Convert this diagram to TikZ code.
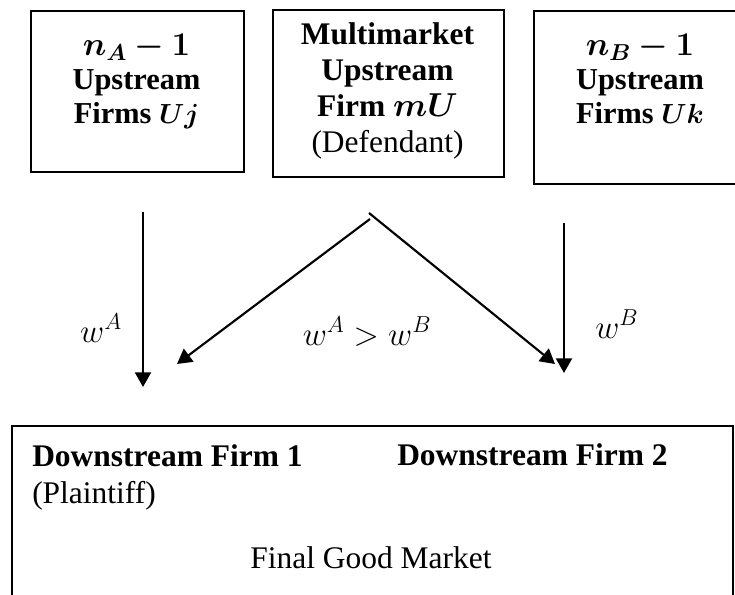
\documentclass[tikz,border=0pt]{standalone}
\usepackage{amsmath,bm}
\usepackage{fontspec}
\setmainfont{Liberation Serif}
\usetikzlibrary{arrows.meta}

\begin{document}
\begin{tikzpicture}[x=0.75pt,y=-0.75pt,font=\fontsize{23.6}{24.5}\selectfont,
  firmbox/.style={draw,line width=1.2pt,anchor=north west,inner sep=0pt},
  firmtext/.style={align=center,anchor=north,inner sep=0pt,font=\fontsize{22.8}{25.5}\selectfont},
  price/.style={line width=1.6pt,-{Triangle[length=11pt,width=12pt]}},
  wlabel/.style={anchor=base,inner sep=0pt,font=\fontsize{25}{26}\selectfont}]
  \useasboundingbox (0,0) rectangle (735,595);
  \clip (0,0) rectangle (735,595);
  % upstream firms
  \node[firmbox,minimum width=159.75pt,minimum height=120.75pt] (upA) at (30,10) {};
  \node[firmbox,minimum width=173.25pt,minimum height=125.25pt] (mU) at (272,9) {};
  \node[firmbox,minimum width=160.5pt,minimum height=129.75pt] (upB) at (533,10) {};
  \node[firmtext] (upAtext) at (136.5,33.5) {{\fontsize{25}{25.5}\selectfont$\boldsymbol{n_A-1}$}\\ \textbf{Upstream}\\ \textbf{Firms $\boldsymbol{Uj}$}};
  \node[firmtext,font=\fontsize{23.6}{27}\selectfont] (mUtext) at (387.5,22) {\textbf{Multimarket}\\ \textbf{Upstream}\\ \textbf{Firm $\boldsymbol{mU}$}\\ (Defendant)};
  \node[firmtext] (upBtext) at (640,33.5) {{\fontsize{25}{25.5}\selectfont$\boldsymbol{n_B-1}$}\\ \textbf{Upstream}\\ \textbf{Firms $\boldsymbol{Uk}$}};
  % downstream market
  \node[firmbox,minimum width=540.75pt,minimum height=165pt] (down) at (11,425) {};
  \node[anchor=north west,align=left,inner sep=0pt,font=\fontsize{23.6}{27.75}\selectfont] (d1) at (32,444) {\textbf{Downstream Firm 1}\\ (Plaintiff)};
  \node[anchor=base west,inner sep=0pt] (d2) at (397,465) {\textbf{Downstream Firm 2}};
  \node[anchor=base,inner sep=0pt] (market) at (371,568) {Final Good Market};
  % wholesale prices
  \coordinate (aTop) at (143,212);
  \coordinate (aEnd) at (143,387);
  \coordinate (mTopL) at (370,219);
  \coordinate (mTopR) at (369,213);
  \coordinate (mEndL) at (177,364);
  \coordinate (mEndR) at (555,364);
  \coordinate (bTop) at (564,223);
  \coordinate (bEnd) at (564,373);
  \draw[price] (aTop) -- (aEnd);
  \draw[price] (mTopL) -- (mEndL);
  \draw[price] (mTopR) -- (mEndR);
  \draw[price] (bTop) -- (bEnd);
  \node[wlabel] (wA) at (101,342) {$w^A$};
  \node[wlabel] (wAB) at (367,345) {$w^A>w^B$};
  \node[wlabel,anchor=base west] (wB) at (595,338) {$w^B$};
\end{tikzpicture}
\end{document}
